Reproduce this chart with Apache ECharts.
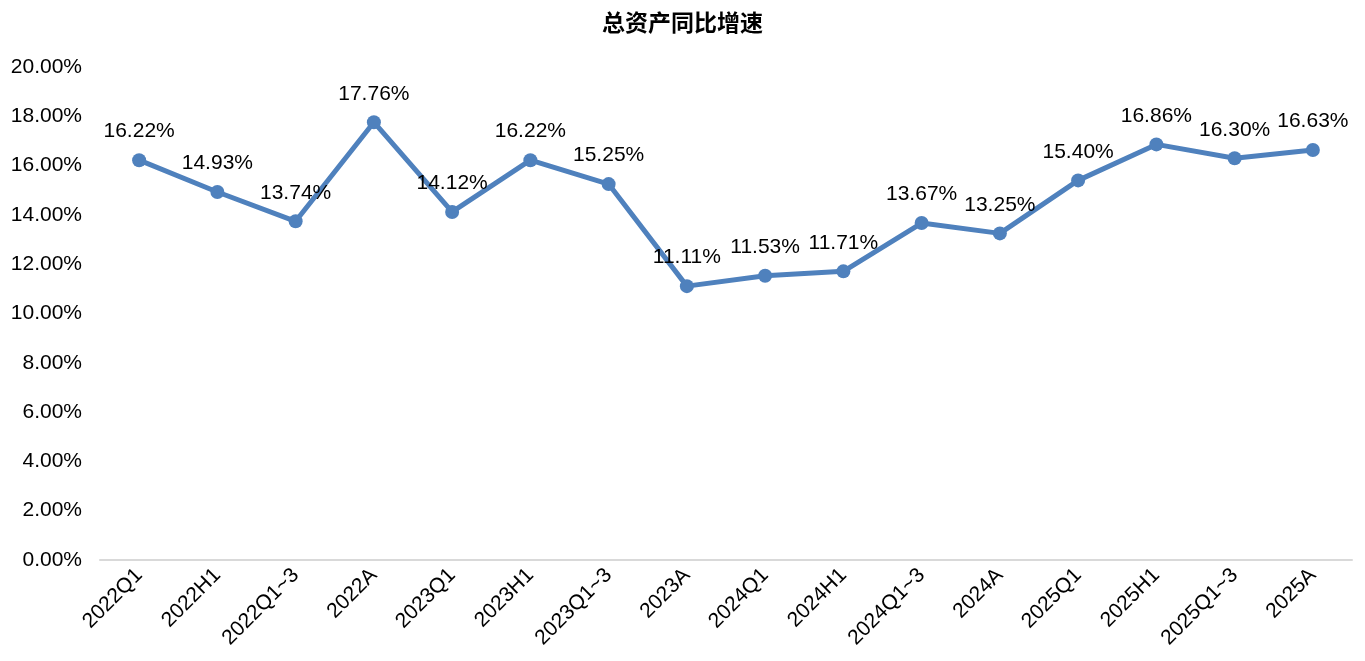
<!DOCTYPE html>
<html>
<head>
<meta charset="utf-8">
<script src="https://cdn.jsdelivr.net/npm/echarts@6/dist/echarts.min.js"></script>
<style>
  html, body { margin: 0; padding: 0; background: #fff; }
  #chart { width: 1365px; height: 661px; }
</style>
</head>
<body>
<div id="chart"></div>
<script>
// periods on the x axis
var periods = ['2022Q1', '2022H1', '2022Q1~3', '2022A', '2023Q1', '2023H1', '2023Q1~3', '2023A',
    '2024Q1', '2024H1', '2024Q1~3', '2024A', '2025Q1', '2025H1', '2025Q1~3', '2025A'];
// total assets growth yoy, %
var growth = [16.22, 14.93, 13.74, 17.76, 14.12, 16.22, 15.25, 11.11,
    11.53, 11.71, 13.67, 13.25, 15.40, 16.86, 16.30, 16.63];

var chart = echarts.init(document.getElementById('chart'));

var option = {
    animation: false,
    title: {
        text: '总资产同比增速',
        left: 'center',
        top: 6,
        textStyle: {
            fontFamily: 'Noto Sans CJK SC',
            fontWeight: 'bold',
            fontSize: 23,
            color: '#000'
        }
    },
    grid: {
        left: 100,
        right: 13,
        top: 67,
        bottom: 101
    },
    xAxis: {
        type: 'category',
        data: periods,
        boundaryGap: true,
        axisLine: { lineStyle: { color: '#d9d9d9', width: 2 } },
        axisTick: { show: false },
        axisLabel: {
            rotate: 45,
            interval: 0,
            margin: 12,
            fontFamily: 'Liberation Sans',
            fontSize: 21,
            color: '#000'
        }
    },
    yAxis: {
        type: 'value',
        min: 0,
        max: 20,
        interval: 2,
        axisLine: { show: false },
        axisTick: { show: false },
        splitLine: { show: false },
        axisLabel: {
            margin: 18,
            fontFamily: 'Liberation Sans',
            fontSize: 21,
            color: '#000',
            formatter: function (v) { return v.toFixed(2) + '%'; }
        }
    },
    series: [{
        type: 'line',
        data: growth,
        symbol: 'circle',
        symbolSize: 14,
        lineStyle: { color: '#4f81bd', width: 5 },
        itemStyle: { color: '#4f81bd' },
        label: {
            show: true,
            position: 'top',
            distance: 11,
            fontFamily: 'Liberation Sans',
            fontSize: 21,
            color: '#000',
            formatter: function (p) { return p.value.toFixed(2) + '%'; }
        }
    }]
};

chart.setOption(option);
</script>
</body>
</html>
